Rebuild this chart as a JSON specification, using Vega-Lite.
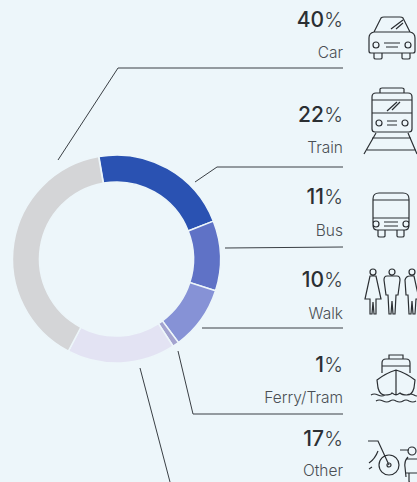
{
"$schema":"https://vega.github.io/schema/vega-lite/v6.json",
"width":417,"height":482,"padding":0,"autosize":{"type":"none"},
"background":"#edf6fa",
"view":{"stroke":null},
"config":{"style":{"cell":{"stroke":null}}},
"datasets":{
"shares":[
{"mode":"Train","share":22,"rank":1,"icx":392,"icy":120,"numy":116,"laby":148},
{"mode":"Bus","share":11,"rank":2,"icx":391,"icy":215,"numy":198,"laby":231},
{"mode":"Walk","share":10,"rank":3,"icx":392,"icy":295,"numy":281,"laby":314},
{"mode":"Ferry/Tram","share":1,"rank":4,"icx":396,"icy":380,"numy":366,"laby":398},
{"mode":"Other","share":17,"rank":5,"icx":392,"icy":455,"numy":440,"laby":471},
{"mode":"Car","share":40,"rank":6,"icx":392,"icy":39,"numy":21,"laby":53}
],
"leaders":[
{"g":"Car","o":1,"x":58,"y":160},{"g":"Car","o":2,"x":118,"y":68},{"g":"Car","o":3,"x":343,"y":68},
{"g":"Train","o":1,"x":195,"y":182},{"g":"Train","o":2,"x":217,"y":167},{"g":"Train","o":3,"x":343,"y":167},
{"g":"Bus","o":1,"x":225,"y":248},{"g":"Bus","o":2,"x":343,"y":247},
{"g":"Walk","o":1,"x":202,"y":328},{"g":"Walk","o":2,"x":343,"y":328},
{"g":"Ferry","o":1,"x":178,"y":351},{"g":"Ferry","o":2,"x":193,"y":414},{"g":"Ferry","o":3,"x":343,"y":414},
{"g":"Other","o":1,"x":140,"y":368},{"g":"Other","o":2,"x":170,"y":482}
]},
"layer":[
{"data":{"name":"shares"},
"mark":{"type":"arc","outerRadius":104,"innerRadius":77,"stroke":"#edf6fa","strokeWidth":1.5},
"encoding":{
"x":{"datum":116.5,"type":"quantitative","scale":{"domain":[0,417],"range":[0,417]},"axis":null},
"y":{"datum":259,"type":"quantitative","scale":{"domain":[0,482],"range":[0,482]},"axis":null},
"theta":{"field":"share","type":"quantitative","stack":true,"scale":{"range":[-0.17,6.11]}},
"order":{"field":"rank","type":"quantitative"},
"color":{"field":"mode","type":"nominal","legend":null,"scale":{"domain":["Train","Bus","Walk","Ferry/Tram","Other","Car"],"range":["#2a52b2","#5f72c6","#8692d6","#a3a3cf","#e3e3f3","#d4d5d7"]}}
}},
{"data":{"name":"leaders"},
"mark":{"type":"line","stroke":"#3a3f44","strokeWidth":1},
"encoding":{
"x":{"field":"x","type":"quantitative","scale":{"domain":[0,417],"range":[0,417]},"axis":null},
"y":{"field":"y","type":"quantitative","scale":{"domain":[0,482],"range":[0,482]},"axis":null},
"detail":{"field":"g"},"order":{"field":"o","type":"quantitative"}
}},
{"data":{"name":"shares"},
"mark":{"type":"text","align":"right","baseline":"middle","font":"Inter","fontSize":21,"fontWeight":500,"color":"#2b2f33","dx":-19},
"encoding":{
"x":{"datum":343,"type":"quantitative","scale":{"domain":[0,417],"range":[0,417]},"axis":null},
"y":{"field":"numy","type":"quantitative","scale":{"domain":[0,482],"range":[0,482]},"axis":null},
"text":{"field":"share","type":"nominal"}
}},
{"data":{"name":"shares"},
"mark":{"type":"text","align":"right","baseline":"middle","font":"Inter","fontSize":20,"fontWeight":300,"color":"#3a3f44","text":"%"},
"encoding":{
"x":{"datum":343,"type":"quantitative","scale":{"domain":[0,417],"range":[0,417]},"axis":null},
"y":{"field":"numy","type":"quantitative","scale":{"domain":[0,482],"range":[0,482]},"axis":null}
}},
{"data":{"name":"shares"},
"mark":{"type":"text","align":"right","baseline":"middle","font":"Inter","fontSize":15.5,"fontWeight":300,"color":"#4a4f54"},
"encoding":{
"x":{"datum":343,"type":"quantitative","scale":{"domain":[0,417],"range":[0,417]},"axis":null},
"y":{"field":"laby","type":"quantitative","scale":{"domain":[0,482],"range":[0,482]},"axis":null},
"text":{"field":"mode","type":"nominal"}
}},
{"data":{"name":"shares"},
"mark":{"type":"point","filled":false,"stroke":"#2b2f33","strokeWidth":1.2,"size":4,"opacity":1},
"encoding":{
"x":{"field":"icx","type":"quantitative","scale":{"domain":[0,417],"range":[0,417]},"axis":null},
"y":{"field":"icy","type":"quantitative","scale":{"domain":[0,482],"range":[0,482]},"axis":null},
"shape":{"field":"mode","type":"nominal","legend":null,"scale":{"domain":["Car","Train","Bus","Walk","Ferry/Tram","Other"],"range":[
"M-23 -1 Q-23 -6 -18 -7 L-11 -21 Q-10 -22 -8 -22 L8 -22 Q10 -22 11 -21 L18 -7 Q23 -6 23 -1 L23 12 Q23 14 21 14 L-21 14 Q-23 14 -23 12 Z M-18 -7 L18 -7 M-18 14 L-18 19 Q-18 20 -16 20 L-12 20 Q-10 20 -10 19 L-10 14 M10 14 L10 19 Q10 20 12 20 L16 20 Q18 20 18 19 L18 14 M-8 4 L8 4 M-6 8 L6 8 M-19 6 a3 3 0 1 0 6 0 a3 3 0 1 0 -6 0 M13 6 a3 3 0 1 0 6 0 a3 3 0 1 0 -6 0 M-1 -10 L11 -19 M4 -10 L11 -16",
"M-20 -23 Q-20 -27 -16 -27 L16 -27 Q20 -27 20 -23 L20 9 Q20 12 17 12 L-17 12 Q-20 12 -20 9 Z M-12 -27 L-12 -31 Q-12 -32 -10 -32 L10 -32 Q12 -32 12 -31 L12 -27 M-20 -20 L20 -20 M-20 -7 L20 -7 M-16 3 a3 3 0 1 0 6 0 a3 3 0 1 0 -6 0 M10 3 a3 3 0 1 0 6 0 a3 3 0 1 0 -6 0 M-5 1 L5 1 M-5 5 L5 5 M-5 -9 L5 -18 M0 -10 L8 -18 M-16 13 L-28 34 M16 13 L25 34 M-20 18 L19 18 M-25 30 L24 30",
"M-18 -16 Q-18 -22 -12 -22 L12 -22 Q18 -22 18 -16 L18 10 Q18 15 14 15 L-14 15 Q-18 15 -18 10 Z M-18 -15 L18 -15 M-18 3 L18 3 M-18 9 a3 3 0 1 0 6 0 a3 3 0 1 0 -6 0 M12 9 a3 3 0 1 0 6 0 a3 3 0 1 0 -6 0 M-7 7 L7 7 M-7 11 L7 11 M-13 15 L-13 21 Q-13 22 -11 22 L-8 22 Q-6 22 -6 21 L-6 15 M6 15 L6 21 Q6 22 8 22 L11 22 Q13 22 13 21 L13 15",
"M-22 -23 a3 3 0 1 0 6 0 a3 3 0 1 0 -6 0 M-22 -19 L-16 -19 L-11 4 L-16 4 L-16 19 L-18 19 L-19 7 L-20 19 L-22 19 L-22 4 L-27 4 Z M-3 -23 a3 3 0 1 0 6 0 a3 3 0 1 0 -6 0 M-5 -19 L5 -19 Q8 -19 8 -15 L6 0 L4 0 L3 19 L1 19 L0 6 L-1 19 L-3 19 L-4 0 L-6 0 L-8 -15 Q-8 -19 -5 -19 Z M17 -23 a3 3 0 1 0 6 0 a3 3 0 1 0 -6 0 M18 -19 L22 -19 L27 4 L24 4 L23 19 L21 19 L20 6 L19 19 L17 19 L16 0 L14 0 L13 -15 Q14 -19 18 -19 Z",
"M-14 -7 L-14 -17 Q-14 -21 -10 -21 L10 -21 Q14 -21 14 -17 L14 -7 M-7 -21 L-7 -25 L7 -25 L7 -21 M-14 -14 L14 -14 M0 -10 Q-10 -7 -19 0 L-18 8 Q-16 15 -11 15 Q-5 15 -4 13 Q-1 15 0 15 Q1 15 4 13 Q6 15 11 15 Q16 15 18 8 L19 0 Q10 -7 0 -10 Z M0 -10 L0 15 M-25 15 Q-22 13 -18 15 Q-14 17 -11 15 M11 15 Q14 13 18 15 Q21 17 25 15 M-20 21 Q-17 19 -13 21 Q-9 23 -6 21 Q-3 19 0 21 Q4 23 7 21 Q10 19 13 21 Q17 23 20 21",
"M-13 10 a10 10 0 1 0 20 0 a10 10 0 1 0 -20 0 M-5 10 a2 2 0 1 0 4 0 a2 2 0 1 0 -4 0 M-24 -14 L-14 -14 L-3 10 M-23 8 Q-17 4 -14 -4 M-23 14 L-20 12 M8 -5 L17 -5 M16 -4 a4 4 0 1 0 8 0 a4 4 0 1 0 -8 0 M16 2 Q12 6 13 12 L14 22 M25 4 L14 4 M14 18 L30 18 M17 18 L17 26 Q17 28 20 28 L25 28 Q27 28 27 26 L27 18"
]}}
}}
]
}
